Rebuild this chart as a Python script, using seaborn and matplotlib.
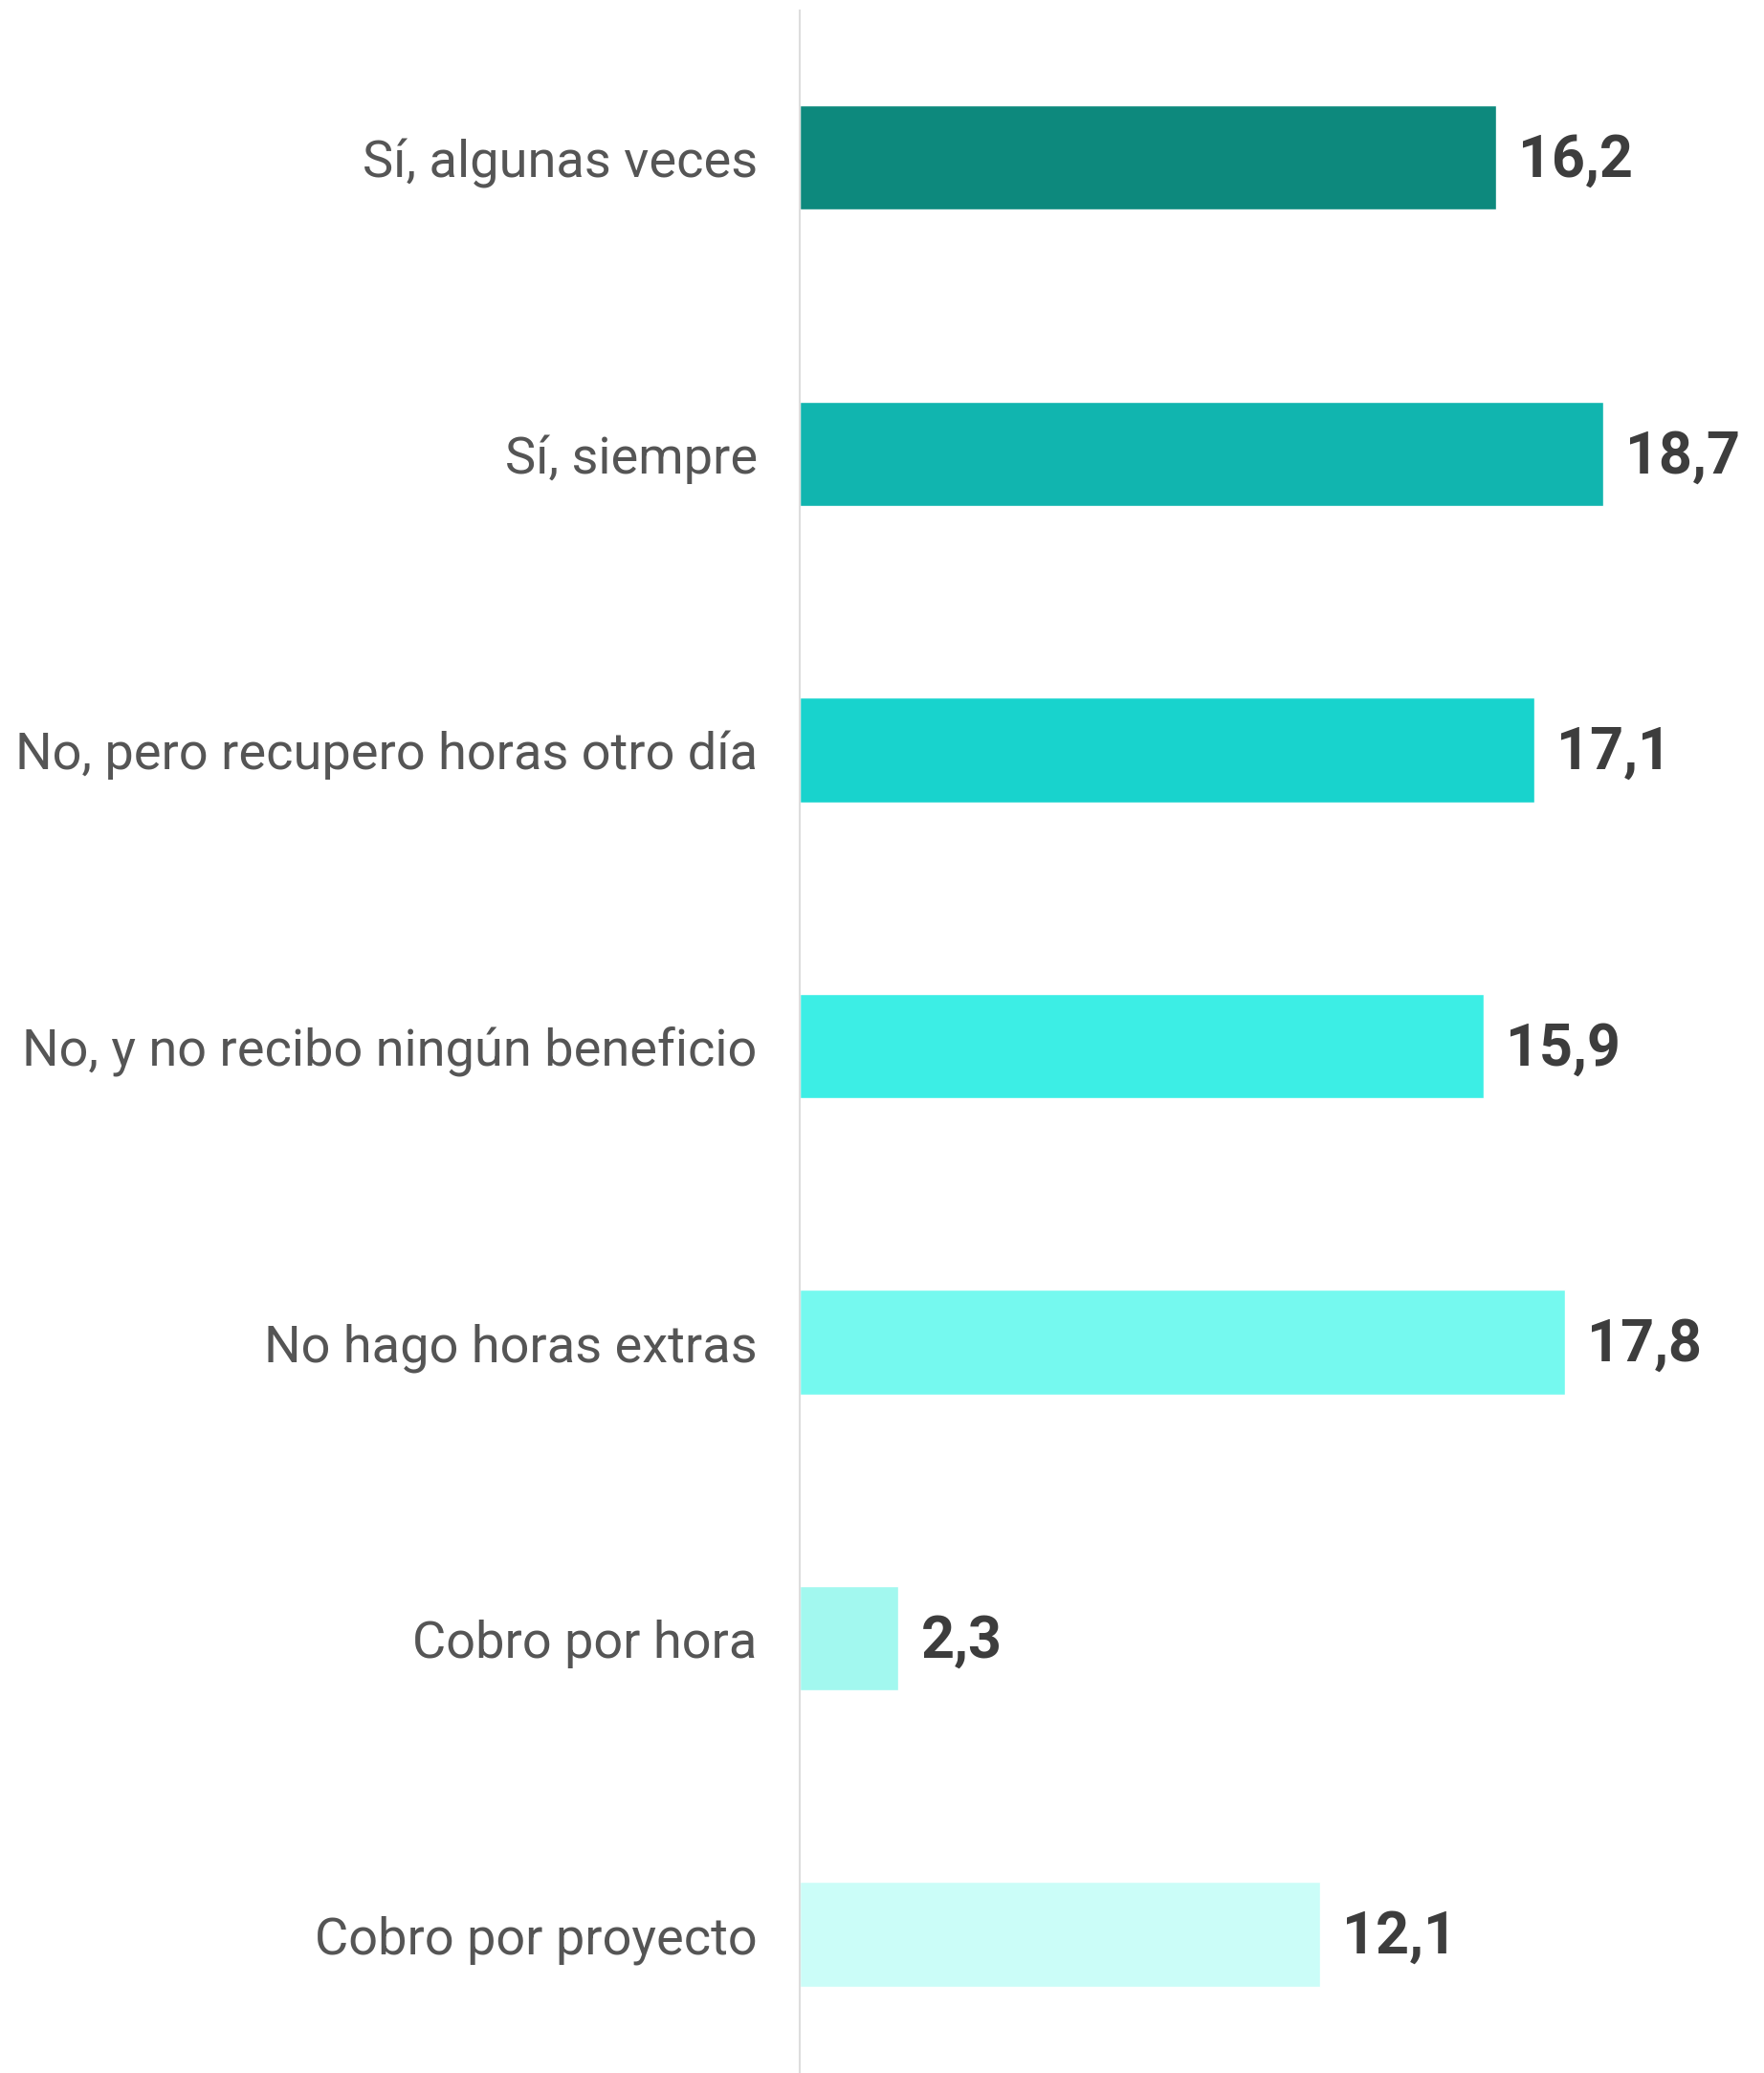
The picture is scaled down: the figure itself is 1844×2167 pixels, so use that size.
import pandas as pd
import matplotlib.pyplot as plt
import seaborn as sns

# Data
categories = [
    "Sí, algunas veces",
    "Sí, siempre",
    "No, pero recupero horas otro día",
    "No, y no recibo ningún beneficio",
    "No hago horas extras",
    "Cobro por hora",
    "Cobro por proyecto",
]
values = [16.2, 18.7, 17.1, 15.9, 17.8, 2.3, 12.1]
value_labels = ["16,2", "18,7", "17,1", "15,9", "17,8", "2,3", "12,1"]
colors = ["#0D897D", "#11B5AF", "#18D3CD", "#3CEEE5", "#75F9EF", "#A2F8EF", "#CBFDF8"]

df = pd.DataFrame({"categoria": categories, "valor": values})

sns.set_theme(style="white")
plt.rcParams['font.family'] = ['Roboto', 'DejaVu Sans']

fig = plt.figure(figsize=(18.44, 21.67), dpi=100)
ax = fig.add_axes([0.4534, 0.0, 0.5466, 1 - 11 / 2167])

sns.barplot(data=df, x="valor", y="categoria", hue="categoria",
            palette=colors, legend=False, width=0.353, saturation=1,
            orient="h", ax=ax)

ax.set_xlim(0, 22.43)
ax.set_ylim(6.468, -0.497)

# value labels next to each bar
for i, (v, lab) in enumerate(zip(values, value_labels)):
    ax.annotate(lab, xy=(v, i), xytext=(23, -3), textcoords="offset pixels",
                va="center", ha="left", fontsize=44, fontweight="bold",
                color="#3D3D3D")

ax.set_xlabel("")
ax.set_ylabel("")
ax.set_xticks([])
ax.tick_params(axis="y", length=0, pad=32, labelsize=39, labelcolor="#555555")
for s in ["top", "right", "bottom"]:
    ax.spines[s].set_visible(False)
ax.spines["left"].set_color("#DDDDDD")
ax.spines["left"].set_linewidth(1.5)

fig.savefig("out.png", dpi=100)
plt.close()
